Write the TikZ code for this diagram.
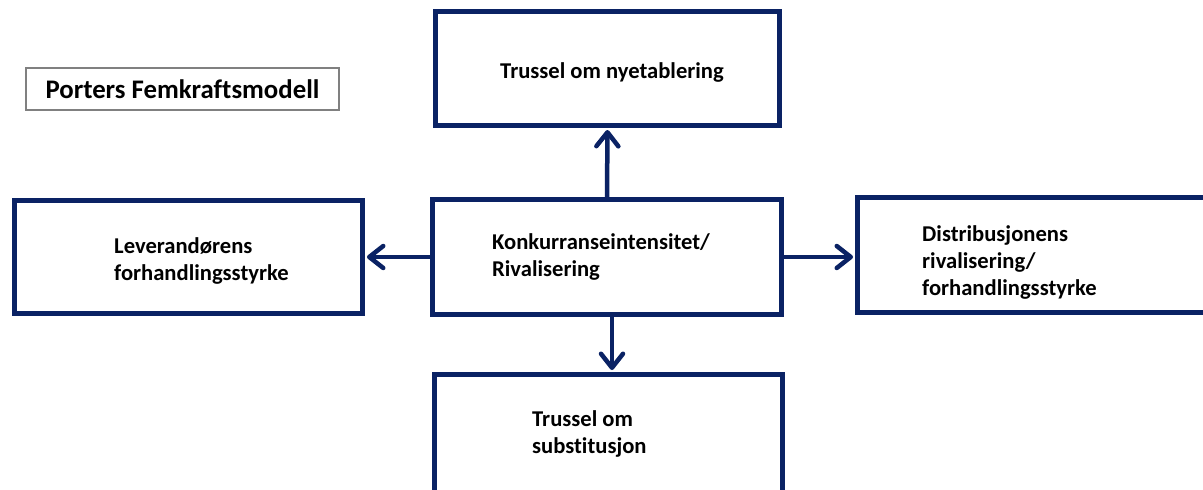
\documentclass[tikz,border=0pt]{standalone}
\usepackage{fontspec}
\setmainfont[Ligatures=NoCommon]{Carlito}
\usetikzlibrary{arrows.meta}
\definecolor{navy}{RGB}{10,34,100}
\begin{document}
\begin{tikzpicture}[x=1pt,y=-1pt,
    box/.style={draw=navy, line width=5pt, inner sep=0pt},
    txt/.style={align=left, anchor=west, inner sep=0pt, font=\fontsize{22.6}{27}\selectfont\bfseries},
    arr/.style={draw=navy, line width=4.5pt, line cap=round, shorten >=2pt,
      -{Straight Barb[length=14pt, width=22pt, round]}}]
  \clip (0,0) rectangle (1203,490);
  \fill[white] (0,0) rectangle (1203,490);
  \node[draw=gray, line width=2.2pt, minimum width=313pt, minimum height=42pt,
    font=\fontsize{26.8}{30}\selectfont\bfseries] (tittel) at (182.5,89) {Porters Femkraftsmodell};
  \node[box, minimum width=344pt, minimum height=114pt] (nye) at (607.5,68.5) {};
  \node[box, minimum width=349pt, minimum height=115pt] (konk) at (607,257) {};
  \node[box, minimum width=348pt, minimum height=113pt] (lev) at (188.5,257) {};
  \node[box, minimum width=360pt, minimum height=115pt] (dist) at (1037.5,255) {};
  \node[box, minimum width=348pt, minimum height=128pt] (subst) at (608.5,438.5) {};
  \node[txt, anchor=center] (nyetekst) at (612,72) {Trussel om nyetablering};
  \node[txt] (konktekst) at (492,256.5) {Konkurranseintensitet/\\Rivalisering};
  \node[txt] (levtekst) at (114,260.5) {Leverandørens\\forhandlingsstyrke};
  \node[txt] (disttekst) at (922,262) {Distribusjonens\\rivalisering/\\forhandlingsstyrke};
  \node[txt] (substtekst) at (532,433.5) {Trussel om\\substitusjon};
  \draw[arr] (konk.north) -- (nye.south);
  \draw[arr] (konk.west) -- (lev.east);
  \draw[arr] (konk.east) -- (konk.east -| dist.west);
  \draw[arr] ([xshift=5pt]konk.south) -- ([xshift=5pt]konk.south |- subst.north);
\end{tikzpicture}
\end{document}
